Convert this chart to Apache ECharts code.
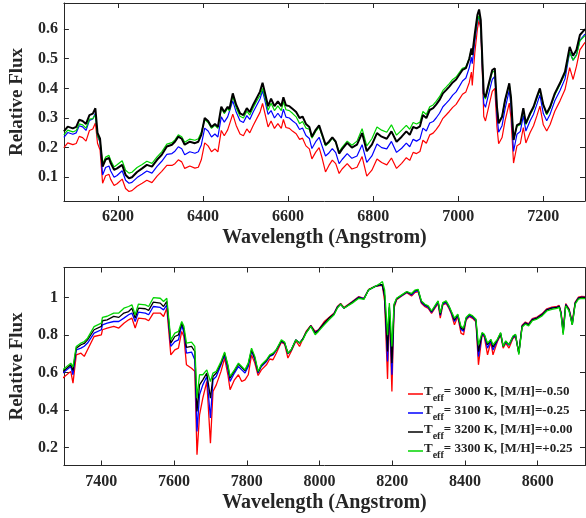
<!DOCTYPE html>
<html><head><meta charset="utf-8">
<script src="https://cdn.jsdelivr.net/npm/echarts@6/dist/echarts.min.js"></script>
<style>html,body{margin:0;padding:0;background:#fff}#c{width:586px;height:518px}</style>
</head><body><div id="c"></div>
<script>
// ---------- Top panel (6073-7298 A) ----------
const topWl=[6073,6082,6094,6102,6109,6117,6125,6133,6141,6147,
6152,6158,6164,6171,6179,6183,6191,6198,6210,6218,
6226,6233,6245,6257,6268,6280,6292,6303,6315,6327,
6334,6342,6350,6357,6369,6381,6389,6396,6404,6412,
6420,6428,6435,6443,6450,6458,6462,6470,6478,6487,
6495,6503,6510,6518,6526,6534,6540,6545,6553,6560,
6568,6576,6584,6589,6595,6603,6611,6619,6627,6634,
6642,6650,6656,6665,6673,6680,6688,6696,6704,6712,
6720,6727,6739,6750,6762,6774,6785,6797,6809,6820,
6832,6843,6855,6867,6878,6886,6894,6902,6910,6917,
6925,6933,6941,6948,6956,6964,6972,6979,6987,6995,
7002,7010,7018,7026,7031,7033,7039,7045,7049,7053,
7057,7060,7064,7072,7080,7086,7091,7095,7103,7110,
7120,7124,7130,7138,7146,7153,7159,7169,7177,7185,
7192,7200,7208,7216,7227,7239,7251,7262,7270,7278,
7286,7298];
const topBlack=[.255,.271,.265,.270,.294,.290,.280,.310,.315,.333,
.250,.230,.136,.160,.165,.148,.125,.130,.142,.108,
.097,.100,.118,.130,.142,.136,.159,.176,.204,.210,
.220,.237,.230,.210,.220,.215,.220,.243,.300,.290,
.270,.280,.270,.338,.320,.338,.330,.383,.345,.316,
.310,.333,.320,.345,.367,.389,.419,.389,.340,.365,
.340,.356,.340,.370,.343,.340,.330,.320,.300,.305,
.280,.270,.237,.260,.275,.245,.210,.220,.235,.220,
.180,.195,.216,.200,.210,.249,.188,.210,.249,.237,
.230,.255,.220,.237,.255,.243,.270,.265,.272,.310,
.300,.327,.333,.345,.361,.383,.395,.406,.420,.430,
.445,.462,.468,.500,.535,.513,.585,.647,.666,.630,
.484,.383,.370,.417,.462,.468,.338,.282,.304,.360,
.417,.370,.226,.276,.282,.333,.282,.316,.338,.372,
.400,.344,.316,.338,.383,.417,.456,.540,.510,.530,
.580,.600];
const topGreen=[.243,.259,.253,.258,.280,.277,.266,.296,.298,.311,
.240,.222,.146,.168,.174,.157,.135,.142,.156,.124,
.114,.117,.133,.143,.154,.147,.169,.186,.212,.217,
.226,.243,.237,.218,.229,.225,.230,.252,.295,.285,
.265,.275,.265,.333,.315,.333,.324,.373,.335,.306,
.300,.323,.310,.335,.357,.376,.400,.374,.326,.350,
.325,.341,.325,.355,.328,.325,.315,.304,.281,.288,
.266,.262,.232,.255,.270,.240,.206,.216,.232,.218,
.186,.201,.222,.208,.222,.264,.206,.230,.270,.259,
.252,.277,.242,.259,.275,.262,.285,.280,.286,.322,
.312,.338,.344,.356,.372,.393,.405,.416,.430,.438,
.452,.468,.472,.502,.532,.512,.575,.630,.645,.615,
.480,.377,.364,.410,.455,.458,.335,.286,.306,.360,
.413,.368,.226,.272,.277,.328,.278,.311,.333,.367,
.394,.344,.311,.333,.378,.412,.450,.523,.495,.512,
.560,.578];
const topBlue=[.235,.251,.245,.250,.274,.270,.258,.292,.297,.316,
.238,.218,.108,.133,.138,.121,.100,.106,.122,.090,
.080,.083,.099,.110,.121,.114,.137,.154,.177,.180,
.188,.203,.196,.176,.186,.181,.186,.209,.266,.256,
.236,.246,.236,.304,.286,.304,.298,.358,.320,.291,
.285,.308,.295,.320,.342,.364,.392,.362,.312,.325,
.300,.316,.300,.330,.303,.300,.290,.281,.261,.266,
.241,.231,.197,.220,.235,.205,.172,.182,.197,.183,
.146,.160,.180,.164,.172,.210,.150,.172,.212,.200,
.196,.221,.184,.198,.215,.203,.228,.222,.229,.266,
.256,.283,.288,.300,.316,.338,.350,.361,.377,.388,
.405,.425,.435,.470,.505,.483,.560,.625,.642,.610,
.460,.349,.336,.384,.430,.440,.310,.252,.274,.330,
.394,.340,.187,.245,.255,.308,.256,.291,.313,.347,
.378,.315,.291,.313,.358,.392,.432,.523,.495,.514,
.562,.583];
const topRed=[.200,.216,.210,.214,.238,.234,.222,.258,.263,.283,
.215,.192,.080,.105,.110,.093,.072,.078,.094,.062,
.052,.055,.070,.080,.090,.082,.104,.120,.140,.140,
.146,.159,.152,.130,.138,.131,.134,.159,.216,.206,
.186,.196,.186,.258,.240,.260,.254,.313,.275,.246,
.240,.263,.250,.275,.297,.319,.349,.319,.270,.290,
.265,.281,.265,.295,.268,.265,.255,.247,.228,.232,
.206,.196,.162,.185,.200,.165,.118,.140,.158,.146,
.113,.128,.146,.128,.134,.170,.104,.124,.162,.150,
.142,.165,.130,.147,.166,.157,.184,.180,.187,.225,
.215,.243,.249,.261,.277,.299,.311,.322,.336,.346,
.362,.380,.388,.420,.455,.410,.520,.600,.630,.600,
.440,.305,.290,.340,.390,.400,.270,.213,.234,.290,
.350,.300,.148,.206,.214,.268,.216,.251,.274,.308,
.340,.277,.256,.278,.323,.357,.396,.470,.430,.475,
.530,.555];

// ---------- Bottom panel (7294-8730 A) ----------
const botWl=[7294,7316,7322,7326,7331,7344,7353,7362,7380,7400,
7403,7416,7434,7448,7462,7475,7484,7493,7502,7521,
7530,7543,7562,7571,7580,7584,7591,7602,7612,7621,
7627,7634,7648,7657,7663,7670,7679,7690,7700,7707,
7716,7729,7739,7748,7754,7766,7777,7786,7795,7804,
7813,7822,7831,7840,7854,7863,7872,7881,7895,7904,
7913,7922,7935,7945,7954,7963,7976,7988,7997,8013,
8026,8040,8049,8058,8067,8090,8108,8122,8135,8153,
8167,8173,8179,8187,8192,8199,8205,8212,8226,8240,
8253,8262,8271,8280,8290,8299,8308,8317,8326,8332,
8339,8348,8356,8362,8371,8380,8389,8396,8403,8412,
8421,8430,8437,8447,8453,8462,8471,8477,8489,8498,
8505,8512,8521,8532,8539,8548,8557,8566,8575,8585,
8598,8612,8625,8639,8653,8659,8664,8670,8677,8686,
8695,8703,8712,8721,8730];
const botGreen=[.614,.650,.630,.680,.739,.757,.765,.783,.845,.863,
.894,.900,.917,.917,.943,.952,.961,.908,.965,.961,
.952,.999,.996,.979,.996,.996,.774,.810,.819,.872,
.846,.757,.762,.739,.463,.588,.588,.614,.552,.597,
.606,.659,.709,.641,.579,.614,.650,.632,.614,.650,
.730,.686,.606,.641,.668,.694,.703,.721,.774,.762,
.703,.721,.774,.757,.774,.810,.846,.801,.819,.854,
.881,.908,.943,.965,.943,.970,.996,.990,1.041,1.059,
1.076,1.085,1.040,.800,.970,.739,.965,.996,1.014,1.032,
1.021,1.039,1.044,.982,.964,.955,.928,.955,.982,.917,
.973,.982,.955,.928,.890,.911,.846,.837,.893,.911,
.902,.884,.748,.813,.804,.757,.777,.748,.777,.813,
.739,.769,.748,.795,.804,.695,.841,.858,.849,.876,
.885,.902,.928,.937,.942,.947,.912,.801,.956,.929,
.854,.965,.991,.995,.994];
const botBlack=[.605,.641,.610,.665,.730,.748,.755,.774,.828,.846,
.876,.881,.899,.894,.917,.925,.943,.890,.943,.940,
.931,.975,.970,.952,.979,.985,.757,.792,.801,.863,
.830,.734,.739,.712,.392,.534,.561,.597,.463,.579,
.597,.650,.703,.632,.570,.609,.645,.627,.609,.645,
.721,.677,.602,.637,.664,.690,.698,.721,.768,.758,
.703,.720,.774,.757,.779,.813,.849,.810,.824,.863,
.890,.912,.947,.965,.943,.974,1.000,.992,1.041,1.059,
1.068,1.068,1.010,.712,.950,.650,.960,.994,1.012,1.030,
1.018,1.036,1.041,.979,.961,.952,.925,.952,.979,.910,
.970,.979,.952,.925,.880,.908,.838,.828,.890,.908,
.899,.881,.712,.810,.801,.748,.774,.735,.774,.810,
.739,.766,.748,.792,.801,.703,.846,.863,.854,.881,
.890,.908,.934,.943,.947,.952,.917,.810,.961,.934,
.854,.970,.996,1.000,.999];
const botBlue=[.597,.632,.588,.650,.721,.730,.740,.757,.810,.828,
.854,.863,.872,.872,.890,.908,.917,.872,.922,.917,
.908,.952,.947,.934,.961,.970,.739,.765,.774,.851,
.815,.703,.709,.668,.286,.481,.534,.579,.357,.561,
.579,.641,.694,.614,.552,.597,.632,.614,.597,.632,
.716,.668,.597,.632,.659,.686,.694,.718,.766,.756,
.700,.718,.774,.757,.779,.813,.849,.813,.826,.863,
.890,.914,.949,.965,.943,.976,1.002,.994,1.041,1.059,
1.066,1.065,1.005,.659,.945,.588,.955,.992,1.010,1.028,
1.013,1.031,1.036,.974,.956,.947,.920,.947,.974,.905,
.965,.974,.947,.920,.872,.903,.830,.820,.885,.903,
.894,.876,.685,.805,.796,.730,.769,.720,.769,.805,
.739,.761,.745,.787,.796,.703,.848,.865,.856,.883,
.892,.910,.936,.945,.949,.954,.919,.815,.963,.936,
.860,.972,.998,1.002,1.001];
const botRed=[.570,.606,.543,.610,.694,.703,.686,.721,.792,.801,
.828,.837,.846,.837,.863,.881,.890,.837,.890,.886,
.876,.917,.917,.899,.943,.952,.694,.721,.730,.819,
.792,.641,.623,.606,.161,.374,.463,.552,.223,.499,
.534,.606,.677,.588,.508,.561,.588,.552,.561,.588,
.694,.650,.584,.614,.641,.672,.668,.703,.762,.751,
.677,.712,.768,.739,.779,.819,.851,.819,.828,.872,
.894,.917,.952,.968,.947,.979,1.005,.996,1.043,1.059,
1.064,1.060,.980,.566,.940,.499,.945,.988,1.008,1.026,
1.008,1.026,1.031,.969,.951,.942,.915,.942,.969,.890,
.960,.969,.942,.915,.854,.898,.810,.801,.880,.898,
.889,.871,.641,.800,.791,.694,.764,.694,.764,.800,
.730,.756,.730,.782,.791,.705,.852,.869,.860,.887,
.896,.914,.940,.949,.953,.958,.923,.830,.967,.940,
.870,.976,1.002,1.006,1.005];

// ---------- Ticks & legend text ----------
const xTicksTop=[6200,6400,6600,6800,7000,7200];
const yTicksTop=[0.1,0.2,0.3,0.4,0.5,0.6];
const xTicksBot=[7400,7600,7800,8000,8200,8400,8600];
const yTicksBot=[0.2,0.4,0.6,0.8,1];
const teffs=['3000','3100','3200','3300'];
const metals=['-0.50','-0.25','+0.00','+0.25'];
const names=teffs.map((t,i)=>'Teff= '+t+' K, [M/H]='+metals[i]);

const FONT='Liberation Serif';
const AX='#262626';
const colors=['#ff0000','#0000ff','#000000','#00d400'];

function pairs(w,v){return w.map((x,i)=>[x,v[i]]);}

function axesFor(grid,xmin,xmax,xt,ymin,ymax,yt){
  const tick={show:true,inside:true,length:5,lineStyle:{color:AX,width:1}};
  const line={show:true,onZero:false,lineStyle:{color:AX,width:1}};
  const lbl={fontFamily:FONT,fontWeight:'bold',fontSize:16,color:AX,formatter:v=>String(v)};
  const xs=[
    {type:'value',gridIndex:grid,position:'bottom',min:xmin,max:xmax,
     axisLine:line,axisTick:Object.assign({customValues:xt},tick),
     axisLabel:Object.assign({customValues:xt,margin:8},lbl),splitLine:{show:false},
     name:'Wavelength (Angstrom)',nameLocation:'middle',nameGap:27,
     nameTextStyle:{fontFamily:FONT,fontWeight:'bold',fontSize:20,color:AX}},
    {type:'value',gridIndex:grid,position:'top',min:xmin,max:xmax,
     axisLine:line,axisTick:Object.assign({customValues:xt},tick),
     axisLabel:{show:false},splitLine:{show:false}}
  ];
  const ys=[
    {type:'value',gridIndex:grid,position:'left',min:ymin,max:ymax,
     axisLine:line,axisTick:Object.assign({customValues:yt},tick),
     axisLabel:Object.assign({customValues:yt,margin:6},lbl),splitLine:{show:false},
     name:'Relative Flux',nameLocation:'middle',nameGap:34,
     nameTextStyle:{fontFamily:FONT,fontWeight:'bold',fontSize:19,color:AX}},
    {type:'value',gridIndex:grid,position:'right',min:ymin,max:ymax,
     axisLine:line,axisTick:Object.assign({customValues:yt},tick),
     axisLabel:{show:false},splitLine:{show:false}}
  ];
  return {xs,ys};
}
const A1=axesFor(0,6073,7298,xTicksTop,0.02,0.688,yTicksTop);
const A2=axesFor(1,7297,8730,xTicksBot,0.104,1.16,yTicksBot);

function ser(name,data,color,xi,yi,w){
  return {type:'line',name,data,xAxisIndex:xi,yAxisIndex:yi,showSymbol:false,symbol:'none',
    lineStyle:{color,width:w},itemStyle:{color},silent:true,animation:false};
}
const series=[
  ser(names[0],pairs(topWl,topRed),colors[0],0,0,1.2),
  ser(names[1],pairs(topWl,topBlue),colors[1],0,0,1.2),
  ser(names[3],pairs(topWl,topGreen),colors[3],0,0,1.2),
  ser(names[2],pairs(topWl,topBlack),colors[2],0,0,2),
  ser(names[0],pairs(botWl,botRed),colors[0],2,2,1.3),
  ser(names[1],pairs(botWl,botBlue),colors[1],2,2,1.3),
  ser(names[2],pairs(botWl,botBlack),colors[2],2,2,1.3),
  ser(names[3],pairs(botWl,botGreen),colors[3],2,2,1.3)
];

const chart=echarts.init(document.getElementById('c'),null,{renderer:'canvas'});
chart.setOption({
  animation:false,
  backgroundColor:'#ffffff',
  grid:[{left:58.5,right:1,top:3,height:198},{left:58.5,right:1,top:267.5,height:198}],
  xAxis:[...A1.xs,...A2.xs],
  yAxis:[...A1.ys,...A2.ys],
  legend:{
    data:names,orient:'vertical',left:403,top:380,itemGap:1,
    itemWidth:15,itemHeight:1.5,icon:'rect',
    formatter:function(n){const i=names.indexOf(n);return '{t|T}{s|eff}{t|= '+teffs[i]+' K, [M/H]='+metals[i]+'}';},
    textStyle:{padding:[0,0,0,-4],rich:{
      t:{fontFamily:FONT,fontWeight:'bold',fontSize:13,color:'#222',lineHeight:18,verticalAlign:'top'},
      s:{fontFamily:FONT,fontWeight:'bold',fontSize:10,color:'#222',lineHeight:18,verticalAlign:'bottom',padding:[8,0,0,0]}
    }}
  },
  series
});
</script></body></html>
